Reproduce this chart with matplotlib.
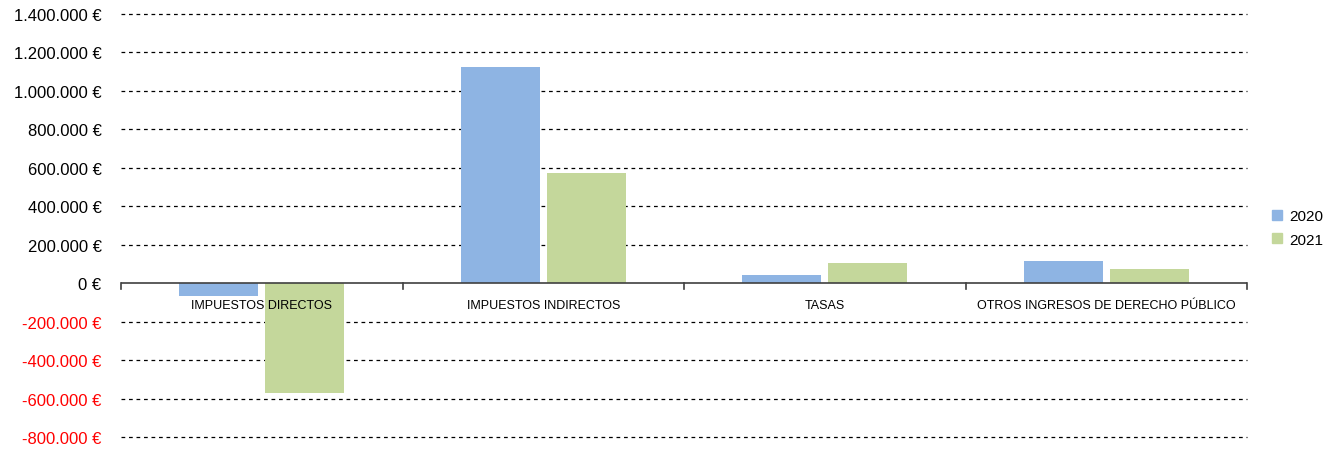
import matplotlib
matplotlib.use("Agg")
import matplotlib.pyplot as plt
import numpy as np
from matplotlib.patches import Patch

plt.rcParams['font.family'] = ['Liberation Sans', 'DejaVu Sans']

categories = ["IMPUESTOS DIRECTOS", "IMPUESTOS INDIRECTOS", "TASAS",
              "OTROS INGRESOS DE DERECHO PÚBLICO"]
series_names = ["2020", "2021"]
values_2020 = [-66000, 1124000, 42000, 115000]
values_2021 = [-571000, 573000, 104000, 73000]
colors = ["#8eb4e3", "#c4d79b"]
yticks = [-800000, -600000, -400000, -200000, 0, 200000, 400000, 600000,
          800000, 1000000, 1200000, 1400000]

def fmt(v):
    s = f"{abs(int(v)):,}".replace(",", ".")
    return ("-" if v < 0 else "") + s + " €"

fig = plt.figure(figsize=(13.24, 4.52), dpi=100)
ax = fig.add_axes([121/1324, 1 - 438/452, (1247-121)/1324, (438-15)/452])

x = np.arange(len(categories))
w = 0.28
off = 0.153
ax.bar(x - off, values_2020, width=w, color=colors[0], zorder=3)
ax.bar(x + off, values_2021, width=w, color=colors[1], zorder=3)

ax.set_xlim(-0.5, len(categories) - 0.5)
ax.set_ylim(-800000, 1400000)
ax.set_yticks(yticks)
ax.set_yticklabels([fmt(v) for v in yticks], fontsize=12)
for lab, v in zip(ax.get_yticklabels(), yticks):
    lab.set_color("red" if v < 0 else "black")
ax.tick_params(axis='y', length=0, pad=14)

for v in yticks:
    if v != 0:
        ax.axhline(v, linestyle=(0, (3, 3)), color="black", linewidth=0.9,
                   zorder=0, clip_on=False)
for s in ["left", "right", "top", "bottom"]:
    ax.spines[s].set_visible(False)

# zero axis line
ax.axhline(0, color="#404040", linewidth=1.2, zorder=4)
# category boundary ticks
ax.set_xticks([])
for b in np.arange(-0.5, len(categories), 1.0):
    ax.plot([b, b], [0, -30000], color="#404040", linewidth=1.2, zorder=4, clip_on=False)
for xi, c in zip(x, categories):
    ax.text(xi, -80000, c, ha="center", va="top", fontsize=9, zorder=5)

handles = [Patch(color=colors[0], label=series_names[0]),
           Patch(color=colors[1], label=series_names[1])]
fig.legend(handles=handles, loc="center left", bbox_to_anchor=(1272/1324, 1 - 229/452),
           frameon=False, fontsize=11, handlelength=0.65, handleheight=0.65,
           handletextpad=0.45, labelspacing=0.6, borderpad=0, borderaxespad=0)

fig.savefig("out.png", dpi=100)
